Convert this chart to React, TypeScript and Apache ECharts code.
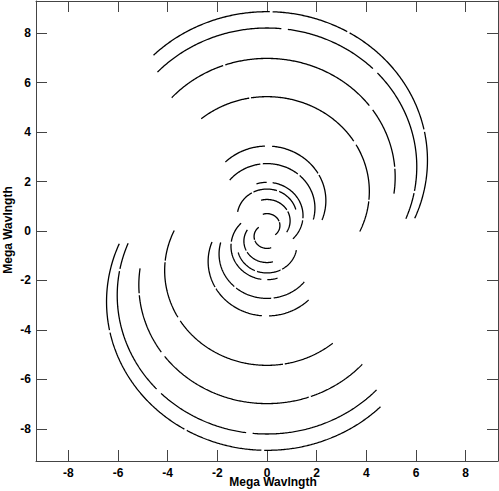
import React, { useEffect, useRef } from "react";
import * as echarts from "echarts";

// Upper UV tracks (the lower tracks are their conjugates: (-u, -v)).
// Each track is an ellipse arc: u = R sin t, v = C + RATIO * R cos t, t in degrees.
const ellipseRatio = 0.93;
const trackR = [6.46, 6.03, 5.16, 4.12, 2.37, 1.93, 1.45, 1.2, 0.93, 0.52];
const trackC = [2.86, 2.6, 2.18, 1.6, 1.23, 0.93, 0.62, 0.58, 0.41, 0.22];
const trackStart = [-45, -47, -48, -40, -45, -51, -17, -80, -15, -19];
const trackEnd = [113, 112, 98, 115, 111, 105, 134, 76, 123, 143];
// gaps in the tracks [from, to] in degrees
const trackGaps: number[][][] = [
  [[1, 2], [30, 31], [78, 79]],
  [[5.5, 7.8], [45, 47.5], [100, 101]],
  [[-20, -19], [53, 55.5], [85, 86]],
  [[-10, -9], [58, 60.5], [95, 96]],
  [[-1.5, 5], [60, 62]],
  [[-8, -5], [40, 43]],
  [[0, 9], [95, 98]],
  [[-30, -27], [20, 24]],
  [[60, 64]],
  [[70, 74]],
];

const axisMin = -9.3;
const axisMax = 9.3;
const tickValues = [-8, -6, -4, -2, 0, 2, 4, 6, 8];
const axisTitle = "Mega Wavlngth";

function buildTrack(i: number, sign: number): any[] {
  const pts: any[] = [];
  const R = trackR[i];
  const C = trackC[i];
  const gaps = trackGaps[i];
  let inGap = false;
  for (let t = trackStart[i]; t <= trackEnd[i] + 1e-9; t += 0.5) {
    const g = gaps.some(([a, b]) => t > a && t < b);
    if (g) {
      if (!inGap) pts.push([null, null]);
      inGap = true;
      continue;
    }
    inGap = false;
    const r = (t * Math.PI) / 180;
    const u = R * Math.sin(r);
    const v = C + ellipseRatio * R * Math.cos(r);
    pts.push([sign * u, sign * v]);
  }
  return pts;
}

export default function App() {
  const ref = useRef<HTMLDivElement>(null);
  useEffect(() => {
    document.body.style.margin = "0";
    if (!ref.current) return;
    const chart = echarts.init(ref.current, null, { renderer: "svg" });
    const series: any[] = [];
    for (let i = 0; i < trackR.length; i++) {
      for (const s of [1, -1]) {
        series.push({
          type: "line",
          data: buildTrack(i, s),
          showSymbol: false,
          connectNulls: false,
          lineStyle: { color: "#000", width: 1.3 },
          silent: true,
        });
      }
    }
    const frameColor = "#444";
    const fontFamily = "'Liberation Sans', Arial, sans-serif";
    const mkAxis = (pos: string, labels: boolean, margin: number) => ({
      type: "value",
      position: pos,
      min: axisMin,
      max: axisMax,
      axisLine: { show: true, onZero: false, lineStyle: { color: frameColor, width: 1 } },
      axisTick: {
        show: true,
        inside: true,
        length: 11,
        customValues: tickValues,
        lineStyle: { color: frameColor, width: 1 },
      },
      axisLabel: {
        show: labels,
        customValues: tickValues,
        margin,
        color: "#000",
        fontFamily,
        fontWeight: "bold",
        fontSize: 12,
      },
      splitLine: { show: false },
    });
    const titleStyle = {
      text: axisTitle,
      align: "center",
      verticalAlign: "middle",
      fill: "#000",
      fontFamily,
      fontWeight: "bold",
      fontSize: 12,
    };
    chart.setOption({
      animation: false,
      backgroundColor: "#fff",
      grid: { left: 36, right: 1, top: 1, bottom: 30, containLabel: false },
      xAxis: [mkAxis("bottom", true, 6), mkAxis("top", false, 6)],
      yAxis: [mkAxis("left", true, 5), mkAxis("right", false, 5)],
      series,
      graphic: [
        { type: "text", x: 273, y: 482, style: titleStyle },
        { type: "text", x: 8, y: 230, rotation: Math.PI / 2, style: titleStyle },
      ],
    });
    return () => chart.dispose();
  }, []);
  return <div ref={ref} style={{ width: 499, height: 491 }} />;
}
